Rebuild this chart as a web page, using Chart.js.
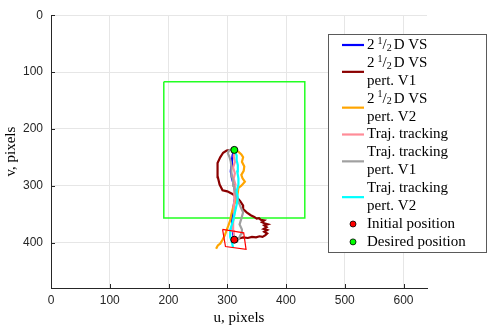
<!DOCTYPE html>
<html>
<head>
<meta charset="utf-8">
<script src="https://cdn.jsdelivr.net/npm/chart.js@4.4.1/dist/chart.umd.min.js"></script>
<style>
  html, body { margin: 0; padding: 0; background: #fff; }
</style>
</head>
<body>
<canvas id="chart" width="489" height="327"></canvas>
<script>
// Image-plane trajectories (u, v in pixels)
const vsU = [312, 310, 309, 308, 309, 311, 313, 313, 311, 308, 306, 307, 308, 309, 311, 312];
const vsV = [395, 385, 373, 360, 348, 335, 322, 310, 298, 287, 275, 265, 255, 247, 240, 237];

const vsP1U = [312, 320, 327, 335, 342, 349, 355, 360, 365, 368, 363, 368, 362, 367, 363, 369, 363, 359, 363, 357, 354, 350, 346, 340, 333, 328, 327, 322, 316, 308, 300, 292, 287, 284, 283, 284, 288, 293, 299, 306, 312];
const vsP1V = [395, 393, 391, 392, 390, 391, 389, 390, 387, 384, 381, 378, 376, 373, 370, 368, 366, 364, 361, 360, 357, 358, 355, 352, 347, 342, 335, 327, 320, 314, 310, 308, 298, 285, 272, 260, 250, 242, 238, 237, 237];

const vsP2U = [281, 284, 288, 292, 296, 299, 302, 305, 307, 310, 313, 316, 318, 319, 324, 330, 326, 324, 328, 329, 325, 327, 324, 319, 312];
const vsP2V = [411, 405, 402, 395, 387, 378, 370, 361, 350, 338, 330, 321, 312, 304, 300, 293, 287, 281, 274, 266, 258, 250, 245, 240, 237];

const ttU = [312, 311, 310, 312, 311, 313, 312, 314, 311, 313, 310, 313, 311, 312, 312];
const ttV = [395, 380, 365, 350, 335, 320, 308, 298, 288, 278, 268, 258, 248, 240, 237];

const ttP1U = [316, 320, 324, 325, 321, 324, 327, 323, 319, 315, 313, 311, 310, 308, 307, 307, 306, 304, 301, 303, 308, 312];
const ttP1V = [400, 392, 384, 377, 368, 358, 347, 338, 328, 318, 309, 300, 292, 283, 275, 266, 258, 250, 243, 238, 236, 237];

const ttP2U = [310, 308, 305, 305, 308, 310, 313, 316, 318, 316, 319, 319, 317, 318, 316, 316, 313, 312];
const ttP2V = [409, 400, 390, 378, 368, 361, 347, 333, 320, 310, 298, 287, 275, 264, 255, 247, 240, 237];

// Field of view of the camera at start and at the goal
const startSquareU = [292, 328, 332, 297, 292];
const startSquareV = [377, 383, 412, 407, 377];
const goalSquareU = [192, 432, 432, 192, 192];
const goalSquareV = [117, 117, 357, 357, 117];

const initialPos = [312, 395];
const desiredPos = [312, 237];

const xTicks = [0, 100, 200, 300, 400, 500, 600];
const yTicks = [0, 100, 200, 300, 400];

const seriesLabels = [
  ['2½ D VS'],
  ['2½ D VS', 'pert. V1'],
  ['2½ D VS', 'pert. V2'],
  ['Traj. tracking'],
  ['Traj. tracking', 'pert. V1'],
  ['Traj. tracking', 'pert. V2'],
  ['Initial position'],
  ['Desired position']
];
const seriesColors = ['#0000ff', '#8b0000', '#ffa500', '#ff8c98', '#a0a0a0', '#00ffff', '#ff0000', '#00ff00'];

function toPoints(us, vs) {
  return us.map((u, i) => ({ x: u, y: vs[i] }));
}

function trajectory(i, us, vs, order) {
  return {
    label: seriesLabels[i].join(' '),
    data: toPoints(us, vs),
    showLine: true,
    borderColor: seriesColors[i],
    borderWidth: 2.2,
    pointRadius: 0,
    tension: 0,
    order: order
  };
}

const SERIF = '"Liberation Serif", "Times New Roman", serif';
const SANS = '"Liberation Sans", Arial, sans-serif';

// Half fraction is typeset as 2 ^1/_2
function drawLabelLine(ctx, text, x, y) {
  ctx.fillStyle = '#000';
  ctx.textBaseline = 'middle';
  ctx.textAlign = 'left';
  if (text.startsWith('2½')) {
    ctx.font = '15px ' + SERIF;
    ctx.fillText('2', x, y);
    x += ctx.measureText('2').width + 3;
    ctx.font = '10px ' + SERIF;
    ctx.fillText('1', x, y - 4);
    x += ctx.measureText('1').width;
    ctx.font = '15px ' + SERIF;
    ctx.fillText('/', x, y);
    x += ctx.measureText('/').width;
    ctx.font = '10px ' + SERIF;
    ctx.fillText('2', x, y + 3);
    x += ctx.measureText('2').width + 2;
    ctx.font = '15px ' + SERIF;
    ctx.fillText(text.slice(2).trim(), x, y);
  } else {
    ctx.font = '15px ' + SERIF;
    ctx.fillText(text, x, y);
  }
}

const legendPlugin = {
  id: 'boxLegend',
  afterDraw(chart) {
    const ctx = chart.ctx;
    ctx.save();
    ctx.fillStyle = '#fff';
    ctx.fillRect(328.5, 34.5, 158, 218);
    ctx.strokeStyle = '#5a5a5a';
    ctx.lineWidth = 1;
    ctx.strokeRect(328.5, 34.5, 158, 218);

    let y = 45;
    const step = 17.9;
    seriesLabels.forEach((lines, i) => {
      const mid = y + (lines.length - 1) * step / 2;
      if (i < 6) {
        ctx.strokeStyle = seriesColors[i];
        ctx.lineWidth = 2.2;
        ctx.beginPath();
        ctx.moveTo(342, mid);
        ctx.lineTo(364, mid);
        ctx.stroke();
      } else {
        ctx.fillStyle = seriesColors[i];
        ctx.strokeStyle = '#000';
        ctx.lineWidth = 0.8;
        ctx.beginPath();
        ctx.arc(353, mid, 3, 0, Math.PI * 2);
        ctx.fill();
        ctx.stroke();
      }
      lines.forEach((t, k) => drawLabelLine(ctx, t, 367, y + k * step));
      y += lines.length * step;
    });
    ctx.restore();
  }
};

// MATLAB style tick marks pointing into the axes
const innerTicks = {
  id: 'innerTicks',
  afterDatasetsDraw(chart) {
    const { ctx, chartArea, scales } = chart;
    ctx.save();
    ctx.strokeStyle = '#262626';
    ctx.lineWidth = 1;
    ctx.beginPath();
    xTicks.forEach(t => {
      const px = Math.round(scales.x.getPixelForValue(t)) + 0.5;
      ctx.moveTo(px, chartArea.bottom);
      ctx.lineTo(px, chartArea.bottom - 4);
    });
    yTicks.forEach(t => {
      const py = Math.round(scales.y.getPixelForValue(t)) + 0.5;
      ctx.moveTo(chartArea.left, py);
      ctx.lineTo(chartArea.left + 4, py);
    });
    ctx.stroke();
    ctx.restore();
  }
};

new Chart(document.getElementById('chart'), {
  type: 'scatter',
  data: {
    datasets: [
      {
        label: 'Desired position',
        data: [{ x: desiredPos[0], y: desiredPos[1] }],
        pointRadius: 3.5,
        pointBackgroundColor: seriesColors[7],
        pointBorderColor: '#000',
        pointBorderWidth: 1,
        order: 0
      },
      {
        label: 'Initial position',
        data: [{ x: initialPos[0], y: initialPos[1] }],
        pointRadius: 3.5,
        pointBackgroundColor: seriesColors[6],
        pointBorderColor: '#000',
        pointBorderWidth: 1,
        order: 1
      },
      {
        label: 'start view',
        data: toPoints(startSquareU, startSquareV),
        showLine: true,
        borderColor: '#ff0000',
        borderWidth: 1.2,
        pointRadius: 0,
        order: 2
      },
      trajectory(5, ttP2U, ttP2V, 3),
      trajectory(4, ttP1U, ttP1V, 4),
      trajectory(3, ttU, ttV, 5),
      trajectory(2, vsP2U, vsP2V, 6),
      trajectory(1, vsP1U, vsP1V, 7),
      trajectory(0, vsU, vsV, 8),
      {
        label: 'goal view',
        data: toPoints(goalSquareU, goalSquareV),
        showLine: true,
        borderColor: '#22ff22',
        borderWidth: 1.5,
        pointRadius: 0,
        order: 9
      }
    ]
  },
  options: {
    responsive: false,
    animation: false,
    devicePixelRatio: 1,
    layout: { padding: { top: 7, right: 62, left: 0, bottom: 0 } },
    plugins: {
      legend: { display: false },
      tooltip: { enabled: false }
    },
    scales: {
      x: {
        type: 'linear',
        min: 0,
        max: 640,
        afterBuildTicks: (scale) => { scale.ticks = xTicks.map(v => ({ value: v })); },
        afterFit: (scale) => { scale.height = 39; },
        grid: { color: '#e6e6e6', drawTicks: false },
        border: { color: '#262626', width: 1 },
        ticks: {
          padding: 5,
          color: '#262626',
          font: { family: SANS, size: 12 },
          maxRotation: 0
        },
        title: {
          display: true,
          text: 'u, pixels',
          color: '#000',
          font: { family: SERIF, size: 15 },
          padding: { top: 0, bottom: 0 }
        }
      },
      y: {
        type: 'linear',
        reverse: true,
        min: 0,
        max: 480,
        afterBuildTicks: (scale) => { scale.ticks = yTicks.map(v => ({ value: v })); },
        afterFit: (scale) => { scale.width = 51; },
        grid: { color: '#e6e6e6', drawTicks: false },
        border: { color: '#262626', width: 1 },
        ticks: {
          padding: 8,
          color: '#262626',
          font: { family: SANS, size: 12 }
        },
        title: {
          display: true,
          text: 'v, pixels',
          color: '#000',
          font: { family: SERIF, size: 15 },
          padding: { top: 2, bottom: 0 }
        }
      }
    }
  },
  plugins: [innerTicks, legendPlugin]
});
</script>
</body>
</html>
